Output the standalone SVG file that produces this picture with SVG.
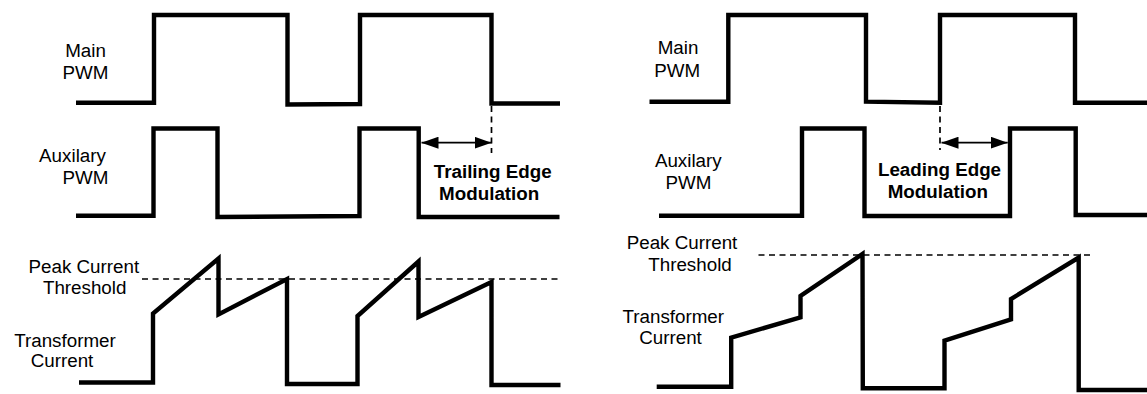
<svg xmlns="http://www.w3.org/2000/svg" width="1147" height="394" viewBox="0 0 1147 394">
<style>
.w{fill:none;stroke:#000;stroke-width:4.4;stroke-linejoin:miter;stroke-miterlimit:6;stroke-linecap:butt}
.d{fill:none;stroke:#000;stroke-width:1.7;stroke-dasharray:6 4.5}
.a{fill:none;stroke:#000;stroke-width:1.8}
.t{font-family:"Liberation Sans",Arial,sans-serif;font-size:18.8px;fill:#000;text-anchor:middle}
.b{font-weight:bold}
</style>
<defs>
<marker id="ah" markerUnits="userSpaceOnUse" markerWidth="17" markerHeight="12" refX="17" refY="6" orient="auto-start-reverse">
<path d="M0,0 L17,6 L0,12 Z" fill="#000"/>
</marker>
</defs>
<rect width="1147" height="394" fill="#fff"/>

<g id="left-panel">
  <g id="left-main-pwm">
    <polyline class="w" points="76,102.7 154,102.7 154,15 287.5,15 287.5,104.5 360,104 360,15 491.5,15 491.5,103.5 560,103.5"/>
    <text class="t" x="85.5" y="56.7">Main</text>
    <text class="t" x="85.5" y="79.3">PWM</text>
  </g>
  <g id="left-aux-pwm">
    <polyline class="w" points="76,215.7 153.5,215.7 153.5,128.5 217.5,128.5 217.5,217 359.5,216 359.5,128.5 418.7,128.5 418.7,217 559.5,217"/>
    <text class="t" x="72.5" y="162.3">Auxilary</text>
    <text class="t" x="85.5" y="184.3">PWM</text>
  </g>
  <g id="left-current">
    <polyline class="w" points="79,382.5 153,382.5 153,313.5 218.5,258.5 218.5,314.5 287,279 287,384 357.5,384 357.5,316 418.5,261.5 418.5,317 491.5,282 491.5,385 560.5,385"/>
    <text class="t" x="65" y="346.7">Transformer</text>
    <text class="t" x="62" y="367.3">Current</text>
  </g>
  <g id="left-threshold">
    <line class="d" x1="142" y1="279" x2="561" y2="279"/>
    <text class="t" x="83.8" y="272.7">Peak Current</text>
    <text class="t" x="84.7" y="294">Threshold</text>
  </g>
  <g id="trailing-edge-label">
    <text class="t b" x="492.7" y="178.3">Trailing Edge</text>
    <text class="t b" x="489.2" y="200.3">Modulation</text>
  </g>
</g>

<g id="right-panel">
  <g id="right-main-pwm">
    <polyline class="w" points="649.5,101.7 728.3,101.7 728.3,15 866,15 866,101.7 940,102.7 940,15 1075,15 1075,102.7 1147,102.7"/>
    <text class="t" x="678" y="54">Main</text>
    <text class="t" x="677.3" y="76.7">PWM</text>
  </g>
  <g id="right-aux-pwm">
    <polyline class="w" points="659,215.7 802,215.7 802,128.5 864.5,128.5 864.5,216 1010,216 1010,128.5 1075.7,128.5 1075.7,215 1147,215"/>
    <text class="t" x="688.3" y="166.7">Auxilary</text>
    <text class="t" x="688.5" y="189.3">PWM</text>
  </g>
  <g id="right-current">
    <polyline class="w" points="656.7,386.7 731.2,386.7 731.2,337.7 800.5,317.3 800.5,296 862.5,254 862.8,388.3 944.5,388.3 944.5,340.7 1011,319.3 1011,299 1078.7,257.5 1078.7,390 1147,390"/>
    <text class="t" x="673.3" y="323.3">Transformer</text>
    <text class="t" x="670.5" y="344.3">Current</text>
  </g>
  <g id="right-threshold">
    <line class="d" x1="758.5" y1="255" x2="1090" y2="255"/>
    <text class="t" x="682" y="249.3">Peak Current</text>
    <text class="t" x="690" y="270.7">Threshold</text>
  </g>
  <g id="leading-edge-label">
    <text class="t b" x="939.5" y="176">Leading Edge</text>
    <text class="t b" x="937.8" y="198">Modulation</text>
  </g>
</g>

<g id="connectors">
  <line class="d" x1="491.5" y1="106" x2="491.5" y2="153"/>
  <line class="a" x1="421.5" y1="142.7" x2="491.5" y2="142.7" marker-start="url(#ah)" marker-end="url(#ah)"/>
  <line class="d" x1="940" y1="106" x2="940" y2="150"/>
  <line class="a" x1="941.5" y1="142.7" x2="1007.7" y2="142.7" marker-start="url(#ah)" marker-end="url(#ah)"/>
</g>
</svg>
